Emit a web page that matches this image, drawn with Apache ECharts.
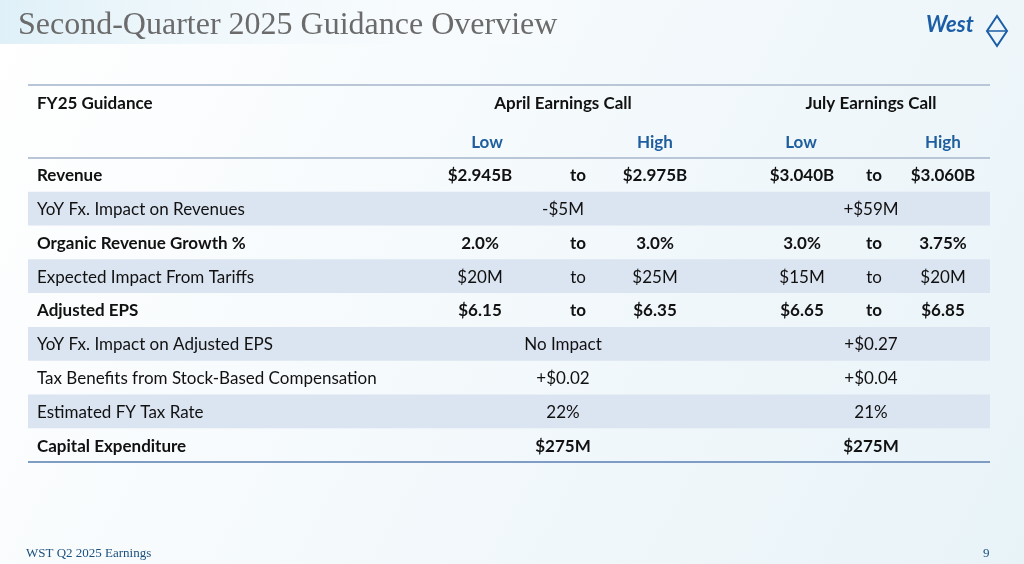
<!DOCTYPE html>
<html><head><meta charset="utf-8">
<script src="https://cdn.jsdelivr.net/npm/echarts@6/dist/echarts.min.js"></script>
<style>html,body{margin:0;padding:0;}#c{width:1024px;height:564px;}</style>
</head><body><div id="c"></div>
<script>
// rows of the guidance table
var rowLabels = ['Revenue', 'YoY Fx. Impact on Revenues', 'Organic Revenue Growth %', 'Expected Impact From Tariffs',
  'Adjusted EPS', 'YoY Fx. Impact on Adjusted EPS', 'Tax Benefits from Stock-Based Compensation', 'Estimated FY Tax Rate', 'Capital Expenditure'];
var rowBold = [true, false, true, false, true, false, false, false, true];
// range rows: [low, high]; single-value rows: [value]
var aprilValues = [['$2.945B', '$2.975B'], ['-$5M'], ['2.0%', '3.0%'], ['$20M', '$25M'], ['$6.15', '$6.35'], ['No Impact'], ['+$0.02'], ['22%'], ['$275M']];
var julyValues = [['$3.040B', '$3.060B'], ['+$59M'], ['3.0%', '3.75%'], ['$15M', '$20M'], ['$6.65', '$6.85'], ['+$0.27'], ['+$0.04'], ['21%'], ['$275M']];

var FONT = 'Lato, "Open Sans", sans-serif';
// column centres on the hidden 0..1024 x axis
var COL = { label: 37, aLow: 480, aTo: 578, aHigh: 655, aMid: 563, jLow: 802, jTo: 874, jHigh: 943, jMid: 871 };

var chart = echarts.init(document.getElementById('c'));

function cellText(api, x, y, txt, bold, color, align) {
  var p = api.coord([x, y]);
  return { type: 'text', style: { x: p[0], y: p[1] + 1, text: txt, fill: color || '#111',
    font: (bold ? 'bold ' : '') + '17px ' + FONT, align: align || 'center', verticalAlign: 'middle' } };
}

function renderRow(params, api) {
  var i = api.value(0);
  var bold = rowBold[i];
  var h = api.size([0, 1])[1];
  var kids = [];
  if (i % 2 === 1) {
    var l = api.coord([28, i]), r = api.coord([990, i]);
    kids.push({ type: 'rect', shape: { x: l[0], y: l[1] - h / 2, width: r[0] - l[0], height: h }, style: { fill: '#dbe4f1' } });
  }
  kids.push(cellText(api, COL.label, i, rowLabels[i], bold, '#111', 'left'));
  [[aprilValues[i], COL.aLow, COL.aTo, COL.aHigh, COL.aMid], [julyValues[i], COL.jLow, COL.jTo, COL.jHigh, COL.jMid]].forEach(function (g) {
    if (g[0].length === 2) {
      kids.push(cellText(api, g[1], i, g[0][0], bold));
      kids.push(cellText(api, g[2], i, 'to', bold));
      kids.push(cellText(api, g[3], i, g[0][1], bold));
    } else {
      kids.push(cellText(api, g[4], i, g[0][0], bold));
    }
  });
  return { type: 'group', children: kids };
}

function hdr(x, y, t, color, align) {
  return { type: 'text', x: x, y: y, style: { text: t, fill: color || '#111', font: 'bold 17px ' + FONT, align: align || 'center', verticalAlign: 'middle' } };
}

chart.setOption({
  backgroundColor: new echarts.graphic.LinearGradient(0, 0, 1, 1, [{ offset: 0, color: '#ffffff' }, { offset: 1, color: '#e8f3f8' }]),
  grid: { left: 0, right: 0, top: 158, bottom: 102 },
  xAxis: { type: 'value', min: 0, max: 1024, show: false },
  yAxis: { type: 'category', inverse: true, data: rowLabels.map(function (d, i) { return i; }), show: false },
  series: [{
    type: 'custom', renderItem: renderRow, silent: true,
    data: rowLabels.map(function (d, i) { return [i]; })
  }],
  graphic: [
    { type: 'rect', shape: { x: 0, y: 0, width: 620, height: 44 }, style: { fill: new echarts.graphic.LinearGradient(0, 0, 1, 0, [{ offset: 0, color: '#dff0f8' }, { offset: 1, color: 'rgba(255,255,255,0)' }]) } },
    { type: 'text', left: 18, top: 10, style: { text: 'Second-Quarter 2025 Guidance Overview', fill: '#6b6b6b', font: '32px "Liberation Serif", serif' } },
    { type: 'text', left: 926, top: 14, style: { text: 'West', fill: '#1b5ea6', font: 'italic bold 22px ' + FONT } },
    { type: 'polygon', shape: { points: [[997, 16], [1007, 31], [997, 46], [987, 31]] }, style: { fill: 'none', stroke: '#1b5ea6', lineWidth: 2 } },
    { type: 'line', shape: { x1: 987, y1: 31, x2: 1007, y2: 31 }, style: { stroke: '#1b5ea6', lineWidth: 1.5 } },
    { type: 'line', shape: { x1: 28, y1: 85, x2: 990, y2: 85 }, style: { stroke: '#b8c6d8', lineWidth: 2 } },
    hdr(37, 104, 'FY25 Guidance', '#111', 'left'),
    hdr(563, 104, 'April Earnings Call'),
    hdr(871, 104, 'July Earnings Call'),
    hdr(487, 143, 'Low', '#1f5e9e'),
    hdr(655, 143, 'High', '#1f5e9e'),
    hdr(801, 143, 'Low', '#1f5e9e'),
    hdr(943, 143, 'High', '#1f5e9e'),
    { type: 'line', shape: { x1: 28, y1: 158, x2: 990, y2: 158 }, style: { stroke: '#b8c6d8', lineWidth: 2 } },
    { type: 'line', shape: { x1: 28, y1: 462, x2: 990, y2: 462 }, style: { stroke: '#7f9cc4', lineWidth: 2 } },
    { type: 'text', left: 26, top: 547, style: { text: 'WST Q2 2025 Earnings', fill: '#1b4f7e', font: '13px "Liberation Serif", serif' } },
    { type: 'text', left: 983, top: 547, style: { text: '9', fill: '#1b4f7e', font: '13px "Liberation Serif", serif' } }
  ]
});
</script></body></html>
